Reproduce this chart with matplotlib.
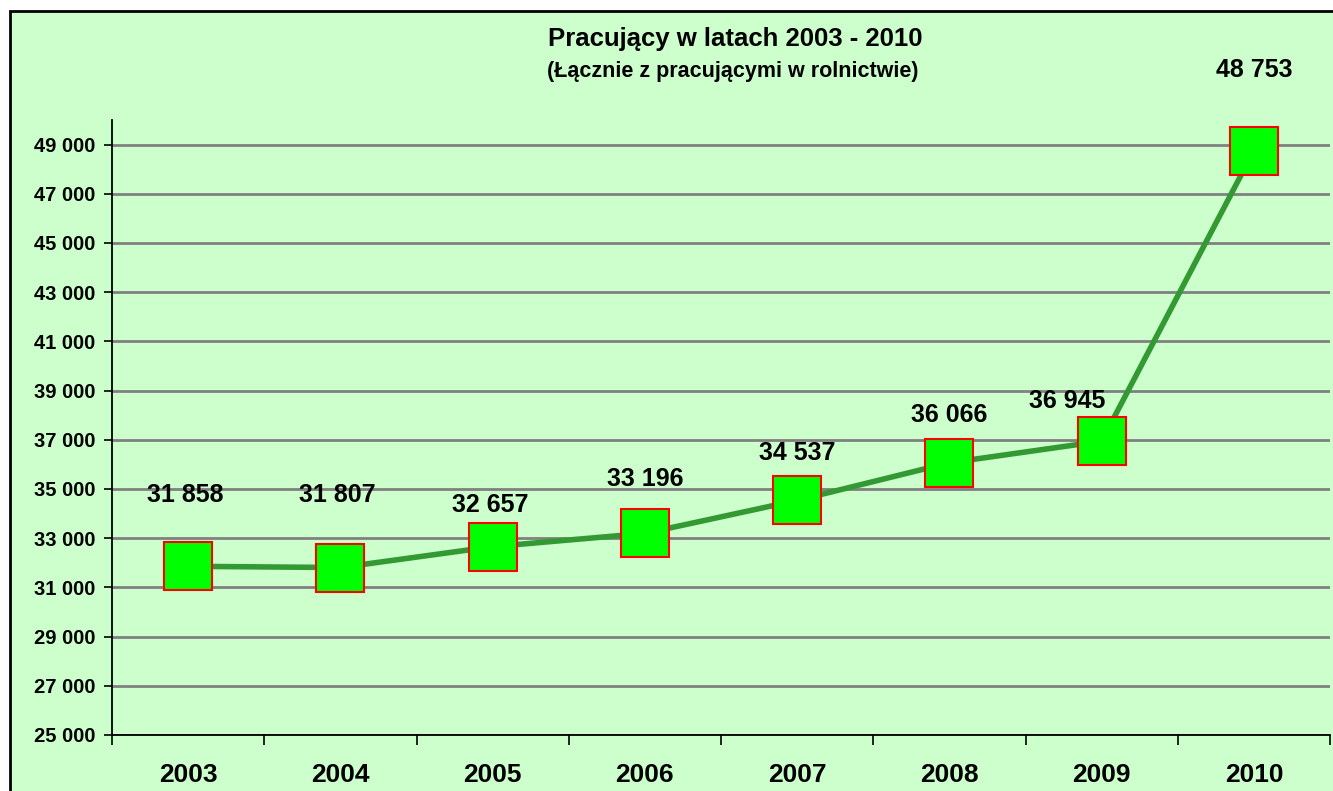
import matplotlib
matplotlib.use("Agg")
import matplotlib.pyplot as plt
from matplotlib.patches import Rectangle
from matplotlib.ticker import FuncFormatter

years = ["2003", "2004", "2005", "2006", "2007", "2008", "2009", "2010"]
employed = [31858, 31807, 32657, 33196, 34537, 36066, 36945, 48753]
y_ticks = list(range(25000, 50000, 2000))

# label placement (pixels from the point), labels were hand-placed in the source
label_dx = [-3, -3, -2, 0, 0, 0, -34, 0]
label_dy = [71, 73, 42, 54, 47, 48, 40, 81]

plt.rcParams['font.family'] = ['Liberation Sans', 'DejaVu Sans']

fig = plt.figure(figsize=(13.33, 7.91), dpi=100)
fig.patch.set_facecolor("white")

# green chart panel (cut off on right and bottom like the source)
panel = Rectangle((10 / 1333, -0.05), 1.1, 1.05 - 11 / 791,
                  transform=fig.transFigure, facecolor="#CCFFCC",
                  edgecolor="black", linewidth=2, zorder=-1)
fig.patches.append(panel)

ax = fig.add_axes([112 / 1333, 1 - 735 / 791, (1330 - 112) / 1333, (735 - 120) / 791])
ax.set_facecolor("none")
ax.set_zorder(1)

x = list(range(len(years)))
ax.plot(x, employed, color="#339933", linewidth=4, zorder=3)
ax.plot(x, employed, linestyle="none", marker="s", markersize=34.5,
        markerfacecolor="#00FF00", markeredgecolor="red", markeredgewidth=1.5, zorder=4)

for xi, v, dx, dy in zip(x, employed, label_dx, label_dy):
    ax.annotate(f"{v:,}".replace(",", " "), (xi, v), xytext=(dx * 0.72, dy * 0.72),
                textcoords="offset points", ha="center", va="center",
                fontsize=18, fontweight="bold", zorder=5)

ax.set_xlim(-0.5, len(years) - 0.5)
ax.set_ylim(25000, 50000)
ax.set_yticks(y_ticks)
ax.yaxis.set_major_formatter(FuncFormatter(lambda v, p: f"{int(v):,}".replace(",", " ")))
ax.grid(axis="y", color="#808080", linewidth=2)
ax.set_axisbelow(True)

ax.set_xticks(x)
ax.set_xticklabels(years)
ax.set_xticks([i - 0.5 for i in range(len(years) + 1)], minor=True)
ax.tick_params(axis="x", which="major", length=0, pad=20, labelsize=19)
ax.tick_params(axis="x", which="minor", length=7, width=1.2, direction="out")
ax.tick_params(axis="y", length=6, width=1.2, pad=6, labelsize=14.5)
for lab in ax.get_xticklabels() + ax.get_yticklabels():
    lab.set_fontweight("bold")

for s in ["top", "right"]:
    ax.spines[s].set_visible(False)
ax.spines["left"].set_linewidth(1.3)
ax.spines["bottom"].set_linewidth(1.3)

fig.text(735 / 1333, 1 - 39 / 791, "Pracujący w latach 2003 - 2010",
         ha="center", va="center", fontsize=18.5, fontweight="bold")
fig.text(733 / 1333, 1 - 72 / 791, "(Łącznie z pracującymi w rolnictwie)",
         ha="center", va="center", fontsize=15.5, fontweight="bold")

fig.savefig("out.png", dpi=100)
